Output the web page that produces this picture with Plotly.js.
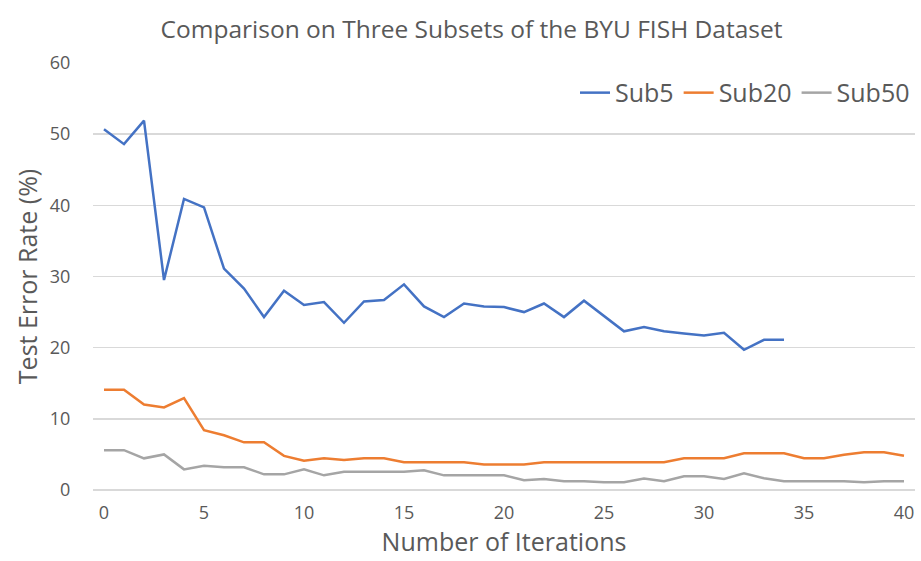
<!DOCTYPE html>
<html>
<head>
<meta charset="utf-8">
<script src="https://cdn.plot.ly/plotly-3.0.1.min.js"></script>
<style>html,body{margin:0;padding:0;background:#fff;}#chart{width:921px;height:561px;}</style>
</head>
<body>
<div id="chart"></div>
<script>
const sub5X = [0,1,2,3,4,5,6,7,8,9,10,11,12,13,14,15,16,17,18,19,20,21,22,23,24,25,26,27,28,29,30,31,32,33,34];
const sub5 = [50.7,48.6,51.9,29.5,40.9,39.7,31.1,28.3,24.3,28.0,26.0,26.4,23.5,26.5,26.7,28.9,25.8,24.3,26.2,25.8,25.7,25.0,26.2,24.3,26.6,24.5,22.3,22.9,22.3,22.0,21.7,22.1,19.7,21.1,21.1];
const fullX = [0,1,2,3,4,5,6,7,8,9,10,11,12,13,14,15,16,17,18,19,20,21,22,23,24,25,26,27,28,29,30,31,32,33,34,35,36,37,38,39,40];
const sub20 = [14.1,14.1,12.0,11.6,12.9,8.4,7.7,6.7,6.7,4.8,4.1,4.45,4.2,4.45,4.45,3.9,3.9,3.9,3.9,3.6,3.6,3.6,3.9,3.9,3.9,3.9,3.9,3.9,3.9,4.45,4.45,4.45,5.15,5.15,5.15,4.45,4.45,4.96,5.3,5.3,4.8];
const sub50 = [5.6,5.6,4.45,5.0,2.9,3.4,3.2,3.2,2.2,2.2,2.9,2.06,2.57,2.57,2.57,2.57,2.76,2.06,2.06,2.06,2.06,1.36,1.54,1.22,1.22,1.08,1.08,1.6,1.22,1.92,1.92,1.54,2.34,1.64,1.22,1.22,1.22,1.22,1.08,1.22,1.22];
const seriesNames = ['Sub5','Sub20','Sub50'];
const xTicks = [0,5,10,15,20,25,30,35,40];
const yTicks = [0,10,20,30,40,50,60];

const fontFam = '"Open Sans", "Noto Sans", sans-serif';
const traces = [
  {x: sub5X, y: sub5, name: seriesNames[0], mode: 'lines', line: {color: '#4472C4', width: 2.5}},
  {x: fullX, y: sub20, name: seriesNames[1], mode: 'lines', line: {color: '#ED7D31', width: 2.5}},
  {x: fullX, y: sub50, name: seriesNames[2], mode: 'lines', line: {color: '#A5A5A5', width: 2.5}}
];
const layout = {
  width: 921, height: 561,
  margin: {l: 93, r: 6, t: 63, b: 71},
  paper_bgcolor: '#fff', plot_bgcolor: '#fff',
  font: {family: fontFam, color: '#595959'},
  title: {text: 'Comparison on Three Subsets of the BYU FISH Dataset', x: 0.512, xanchor: 'center', y: 0.947, yanchor: 'middle', font: {size: 24.5, color: '#595959', family: fontFam}},
  xaxis: {
    range: [-0.55, 40.55], tickvals: xTicks, ticktext: xTicks.map(String),
    showgrid: false, zeroline: false, showline: false, ticks: 'outside', ticklen: 6, tickcolor: 'rgba(0,0,0,0)',
    tickfont: {size: 18, color: '#595959'},
    title: {text: 'Number of Iterations', font: {size: 25, color: '#595959'}, standoff: 6}
  },
  yaxis: {
    range: [0, 60], tickvals: yTicks, ticktext: yTicks.map(String),
    showgrid: true, gridcolor: '#d9d9d9', gridwidth: 1.5, zeroline: true, zerolinecolor: '#d9d9d9', zerolinewidth: 1.5, showline: false,
    ticks: 'outside', ticklen: 18, tickcolor: 'rgba(0,0,0,0)',
    tickfont: {size: 18, color: '#595959'},
    title: {text: 'Test Error Rate (%)', font: {size: 25, color: '#595959'}, standoff: 5}
  },
  showlegend: true,
  legend: {orientation: 'h', x: 1.0, xanchor: 'right', y: 0.93, yanchor: 'middle', font: {size: 25, color: '#595959'}, itemwidth: 30, bgcolor: 'rgba(0,0,0,0)'}
};
Plotly.newPlot('chart', traces, layout, {displayModeBar: false, staticPlot: true});
</script>
</body>
</html>
